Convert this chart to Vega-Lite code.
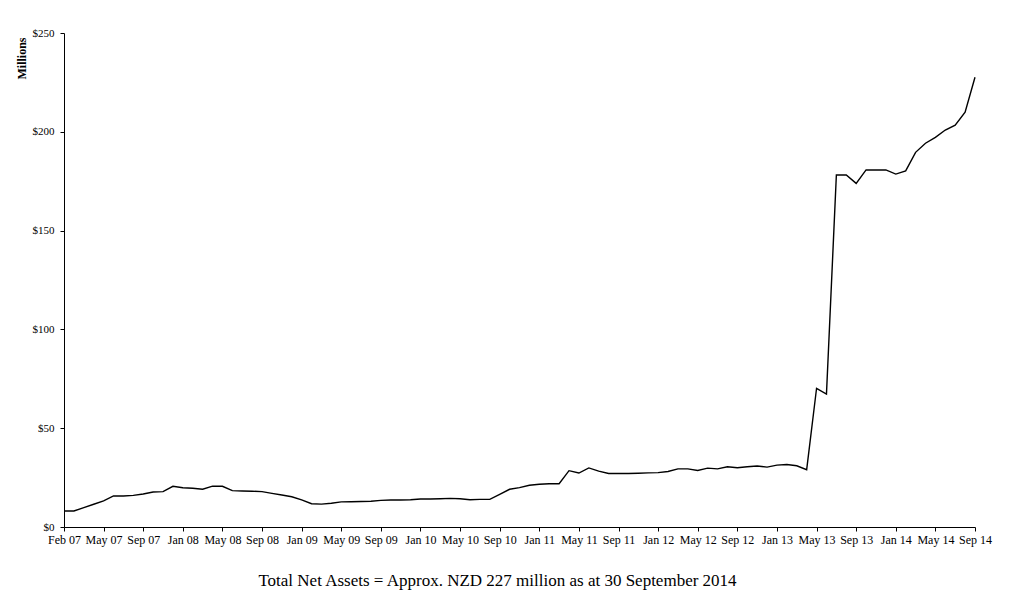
{
  "$schema": "https://vega.github.io/schema/vega-lite/v6.json",
  "width": 911,
  "height": 494,
  "autosize": {"type": "none"},
  "padding": {"left": 64, "top": 33, "right": 39, "bottom": 80},
  "background": "white",
  "config": {"view": {"stroke": null}, "font": "Liberation Serif"},
  "title": {
    "text": "Total Net Assets = Approx. NZD 227 million as at 30 September 2014",
    "orient": "bottom",
    "anchor": "middle",
    "dx": -22,
    "offset": 28,
    "fontSize": 17,
    "fontWeight": "normal",
    "font": "Liberation Serif",
    "color": "black"
  },
  "data": {
    "values": [
      {"i": 0, "v": 8.1}, {"i": 1, "v": 8.1}, {"i": 2, "v": 9.8}, {"i": 3, "v": 11.5},
      {"i": 4, "v": 13.2}, {"i": 5, "v": 15.7}, {"i": 6, "v": 15.7}, {"i": 7, "v": 16.0},
      {"i": 8, "v": 16.7}, {"i": 9, "v": 17.7}, {"i": 10, "v": 17.9}, {"i": 11, "v": 20.6},
      {"i": 12, "v": 19.9}, {"i": 13, "v": 19.6}, {"i": 14, "v": 19.1}, {"i": 15, "v": 20.7},
      {"i": 16, "v": 20.6}, {"i": 17, "v": 18.4}, {"i": 18, "v": 18.2}, {"i": 19, "v": 18.1},
      {"i": 20, "v": 17.9}, {"i": 21, "v": 17.0}, {"i": 22, "v": 16.2}, {"i": 23, "v": 15.3},
      {"i": 24, "v": 13.7}, {"i": 25, "v": 11.8}, {"i": 26, "v": 11.6}, {"i": 27, "v": 12.0},
      {"i": 28, "v": 12.7}, {"i": 29, "v": 12.8}, {"i": 30, "v": 12.9}, {"i": 31, "v": 13.0},
      {"i": 32, "v": 13.5}, {"i": 33, "v": 13.7}, {"i": 34, "v": 13.7}, {"i": 35, "v": 13.8},
      {"i": 36, "v": 14.2}, {"i": 37, "v": 14.2}, {"i": 38, "v": 14.3}, {"i": 39, "v": 14.5},
      {"i": 40, "v": 14.3}, {"i": 41, "v": 13.8}, {"i": 42, "v": 14.0}, {"i": 43, "v": 14.0},
      {"i": 44, "v": 16.5}, {"i": 45, "v": 19.1}, {"i": 46, "v": 19.9}, {"i": 47, "v": 21.1},
      {"i": 48, "v": 21.6}, {"i": 49, "v": 21.9}, {"i": 50, "v": 21.9}, {"i": 51, "v": 28.5},
      {"i": 52, "v": 27.3}, {"i": 53, "v": 29.9}, {"i": 54, "v": 28.3}, {"i": 55, "v": 27.1},
      {"i": 56, "v": 27.1}, {"i": 57, "v": 27.1}, {"i": 58, "v": 27.2}, {"i": 59, "v": 27.4},
      {"i": 60, "v": 27.5}, {"i": 61, "v": 28.1}, {"i": 62, "v": 29.4}, {"i": 63, "v": 29.4},
      {"i": 64, "v": 28.6}, {"i": 65, "v": 29.8}, {"i": 66, "v": 29.4}, {"i": 67, "v": 30.5},
      {"i": 68, "v": 30.0}, {"i": 69, "v": 30.5}, {"i": 70, "v": 30.9}, {"i": 71, "v": 30.3},
      {"i": 72, "v": 31.3}, {"i": 73, "v": 31.6}, {"i": 74, "v": 31.0}, {"i": 75, "v": 29.0},
      {"i": 76, "v": 70.2}, {"i": 77, "v": 67.3}, {"i": 78, "v": 178.1}, {"i": 79, "v": 178.1},
      {"i": 80, "v": 173.9}, {"i": 81, "v": 180.7}, {"i": 82, "v": 180.7}, {"i": 83, "v": 180.7},
      {"i": 84, "v": 178.6}, {"i": 85, "v": 180.2}, {"i": 86, "v": 189.6}, {"i": 87, "v": 194.2},
      {"i": 88, "v": 197.2}, {"i": 89, "v": 200.9}, {"i": 90, "v": 203.4}, {"i": 91, "v": 209.9},
      {"i": 92, "v": 227.6}
    ]
  },
  "mark": {"type": "line", "color": "black", "strokeWidth": 1.4},
  "encoding": {
    "x": {
      "field": "i",
      "type": "quantitative",
      "scale": {"domain": [0, 92], "nice": false, "zero": false},
      "axis": {
        "values": [0, 4, 8, 12, 16, 20, 24, 28, 32, 36, 40, 44, 48, 52, 56, 60, 64, 68, 72, 76, 80, 84, 88, 92],
        "labelExpr": "['Feb 07','May 07','Sep 07','Jan 08','May 08','Sep 08','Jan 09','May 09','Sep 09','Jan 10','May 10','Sep 10','Jan 11','May 11','Sep 11','Jan 12','May 12','Sep 12','Jan 13','May 13','Sep 13','Jan 14','May 14','Sep 14'][round(datum.value/4)]",
        "title": null,
        "grid": false,
        "domainColor": "black",
        "tickColor": "black",
        "tickSize": 4,
        "labelFontSize": 12,
        "labelColor": "black",
        "labelPadding": 3,
        "labelFont": "Liberation Serif",
        "labelOverlap": false,
        "labelFlush": false
      }
    },
    "y": {
      "field": "v",
      "type": "quantitative",
      "scale": {"domain": [0, 250], "nice": false},
      "axis": {
        "values": [0, 50, 100, 150, 200, 250],
        "format": "$.0f",
        "title": "Millions",
        "titleFont": "Liberation Serif",
        "titleFontWeight": "bold",
        "titleFontSize": 12,
        "titleColor": "black",
        "titleAngle": -90,
        "titleAlign": "right",
        "titleBaseline": "alphabetic",
        "titleX": -39,
        "titleY": 4,
        "grid": false,
        "domainColor": "black",
        "tickColor": "black",
        "tickSize": 4,
        "labelFontSize": 11,
        "labelColor": "black",
        "labelPadding": 6,
        "labelFont": "Liberation Serif"
      }
    }
  }
}
